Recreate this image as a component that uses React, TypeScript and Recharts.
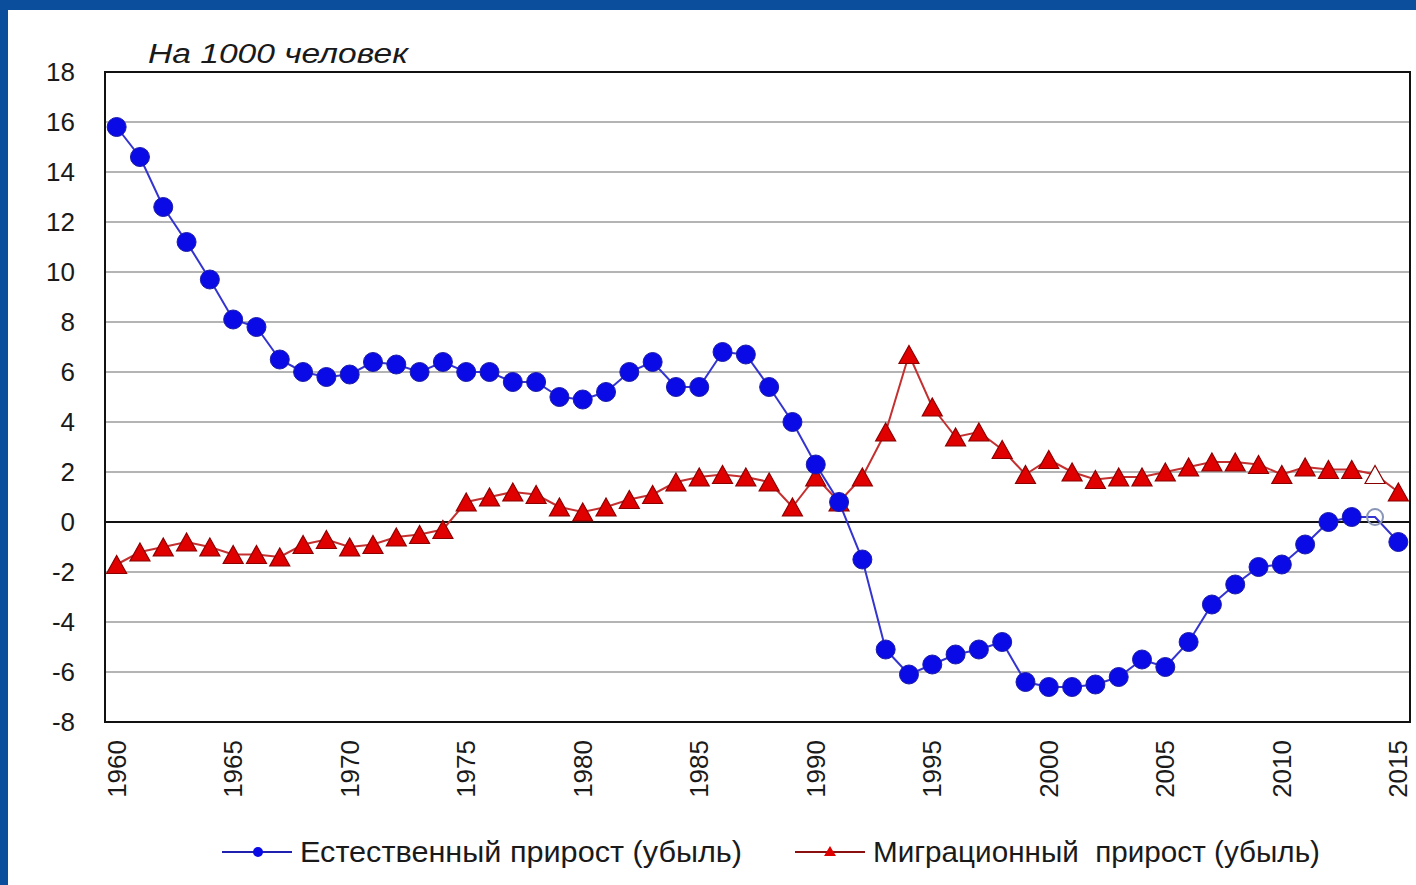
import React from "react";
import {
  LineChart,
  Line,
  XAxis,
  YAxis,
  CartesianGrid,
  ReferenceLine,
  ReferenceArea,
} from "recharts";

// values per 1000 people
const years = [
  1960, 1961, 1962, 1963, 1964, 1965, 1966, 1967, 1968, 1969,
  1970, 1971, 1972, 1973, 1974, 1975, 1976, 1977, 1978, 1979,
  1980, 1981, 1982, 1983, 1984, 1985, 1986, 1987, 1988, 1989,
  1990, 1991, 1992, 1993, 1994, 1995, 1996, 1997, 1998, 1999,
  2000, 2001, 2002, 2003, 2004, 2005, 2006, 2007, 2008, 2009,
  2010, 2011, 2012, 2013, 2014, 2015,
];

const natural = [
  15.8, 14.6, 12.6, 11.2, 9.7, 8.1, 7.8, 6.5, 6.0, 5.8,
  5.9, 6.4, 6.3, 6.0, 6.4, 6.0, 6.0, 5.6, 5.6, 5.0,
  4.9, 5.2, 6.0, 6.4, 5.4, 5.4, 6.8, 6.7, 5.4, 4.0,
  2.3, 0.8, -1.5, -5.1, -6.1, -5.7, -5.3, -5.1, -4.8, -6.4,
  -6.6, -6.6, -6.5, -6.2, -5.5, -5.8, -4.8, -3.3, -2.5, -1.8,
  -1.7, -0.9, 0.0, 0.2, 0.2, -0.8,
];

const migration = [
  -1.7, -1.2, -1.0, -0.8, -1.0, -1.3, -1.3, -1.4, -0.9, -0.7,
  -1.0, -0.9, -0.6, -0.5, -0.3, 0.8, 1.0, 1.2, 1.1, 0.6,
  0.4, 0.6, 0.9, 1.1, 1.6, 1.8, 1.9, 1.8, 1.6, 0.6,
  1.8, 0.8, 1.8, 3.6, 6.7, 4.6, 3.4, 3.6, 2.9, 1.9,
  2.5, 2.0, 1.7, 1.8, 1.8, 2.0, 2.2, 2.4, 2.4, 2.3,
  1.9, 2.2, 2.1, 2.1, 1.9, 1.2,
];

// the 2014 points are drawn hollow in the source
const hollowYears = [2014];

const yTicks = [-8, -6, -4, -2, 0, 2, 4, 6, 8, 10, 12, 14, 16, 18];
const xTicks = [1960, 1965, 1970, 1975, 1980, 1985, 1990, 1995, 2000, 2005, 2010, 2015];

const data = years.map((year, i) => ({
  year,
  natural: natural[i],
  migration: migration[i],
}));

const FONT = '"Liberation Sans", Arial, sans-serif';

const CircleDot = (props: any) => {
  const { cx, cy, payload, index } = props;
  if (cx == null || cy == null) return <g key={`n${index}`} />;
  const hollow = hollowYears.includes(payload.year);
  return (
    <circle
      key={`n${index}`}
      cx={cx}
      cy={cy}
      r={hollow ? 8 : 9.5}
      fill={hollow ? "none" : "#0a0ae6"}
      stroke={hollow ? "#8a96b8" : "#1c1ca8"}
      strokeWidth={hollow ? 2 : 1}
    />
  );
};

const TriangleDot = (props: any) => {
  const { cx, cy, payload, index } = props;
  if (cx == null || cy == null) return <g key={`m${index}`} />;
  const hollow = hollowYears.includes(payload.year);
  const w = 10;
  const h = 9;
  return (
    <polygon
      key={`m${index}`}
      points={`${cx},${cy - h} ${cx + w},${cy + h} ${cx - w},${cy + h}`}
      fill={hollow ? "#ffffff" : "#e00000"}
      stroke="#8a0000"
      strokeWidth={1.2}
    />
  );
};

const YearTick = (props: any) => {
  const { x, y, payload } = props;
  return (
    <text
      transform={`translate(${x + 9},${y + 18}) rotate(-90)`}
      textAnchor="end"
      fontSize={26}
      fontFamily={FONT}
      fill="#1a1a1a"
    >
      {payload.value}
    </text>
  );
};

const App: React.FC = () => {
  return (
    <div
      style={{
        position: "absolute",
        left: 0,
        top: 0,
        width: 1416,
        height: 885,
        background: "#0b4f9c",
        overflow: "hidden",
      }}
    >
      <div
        style={{
          position: "absolute",
          left: 8,
          top: 10,
          width: 1408,
          height: 875,
          background: "#ffffff",
        }}
      />
      <div style={{ position: "absolute", left: 0, top: 0 }}>
        <LineChart
          width={1416}
          height={885}
          data={data}
          margin={{ top: 72, right: 6, bottom: 0, left: 0 }}
        >
          <CartesianGrid
            horizontal
            vertical={false}
            stroke="#b4b4b4"
            strokeWidth={2}
          />
          <ReferenceArea
            x1={1959.5}
            x2={2015.5}
            y1={-8}
            y2={18}
            fill="none"
            stroke="#111"
            strokeWidth={2}
            fillOpacity={0}
          />
          <ReferenceLine y={0} stroke="#111" strokeWidth={2} />
          <XAxis
            dataKey="year"
            type="number"
            domain={[1959.5, 2015.5]}
            ticks={xTicks}
            axisLine={false}
            tickLine={false}
            tickSize={0}
            tickMargin={0}
            height={163}
            tick={<YearTick />}
            interval={0}
          />
          <YAxis
            domain={[-8, 18]}
            ticks={yTicks}
            width={105}
            axisLine={false}
            tickLine={false}
            tickSize={0}
            tickMargin={30}
            interval={0}
            tick={{ fontSize: 26, fontFamily: FONT, fill: "#1a1a1a" }}
          />
          <Line
            dataKey="migration"
            stroke="#c43030"
            strokeWidth={2}
            dot={<TriangleDot />}
            isAnimationActive={false}
          />
          <Line
            dataKey="natural"
            stroke="#3434d0"
            strokeWidth={2}
            dot={<CircleDot />}
            isAnimationActive={false}
          />
        </LineChart>
      </div>
      <svg
        width={1416}
        height={885}
        style={{ position: "absolute", left: 0, top: 0, pointerEvents: "none" }}
      >
        <text
          x={148}
          y={63}
          fontSize={27}
          fontStyle="italic"
          fontFamily={FONT}
          fill="#1a1a1a"
          textLength={260}
          lengthAdjust="spacingAndGlyphs"
        >
          На 1000 человек
        </text>
        <line x1={222} y1={852} x2={292} y2={852} stroke="#2020b0" strokeWidth={2} />
        <circle cx={258} cy={852} r={5} fill="#0a0ae6" />
        <text
          x={300}
          y={862}
          fontSize={29}
          fontFamily={FONT}
          fill="#1a1a1a"
          textLength={442}
          lengthAdjust="spacingAndGlyphs"
        >
          Естественный прирост (убыль)
        </text>
        <line x1={795} y1={852} x2={865} y2={852} stroke="#8a1010" strokeWidth={2} />
        <polygon points="830,846 836,856 824,856" fill="#e00000" />
        <text
          x={873}
          y={862}
          fontSize={29}
          fontFamily={FONT}
          fill="#1a1a1a"
          textLength={447}
          lengthAdjust="spacingAndGlyphs"
          xmlSpace="preserve"
        >
          Миграционный  прирост (убыль)
        </text>
      </svg>
    </div>
  );
};

export default App;
